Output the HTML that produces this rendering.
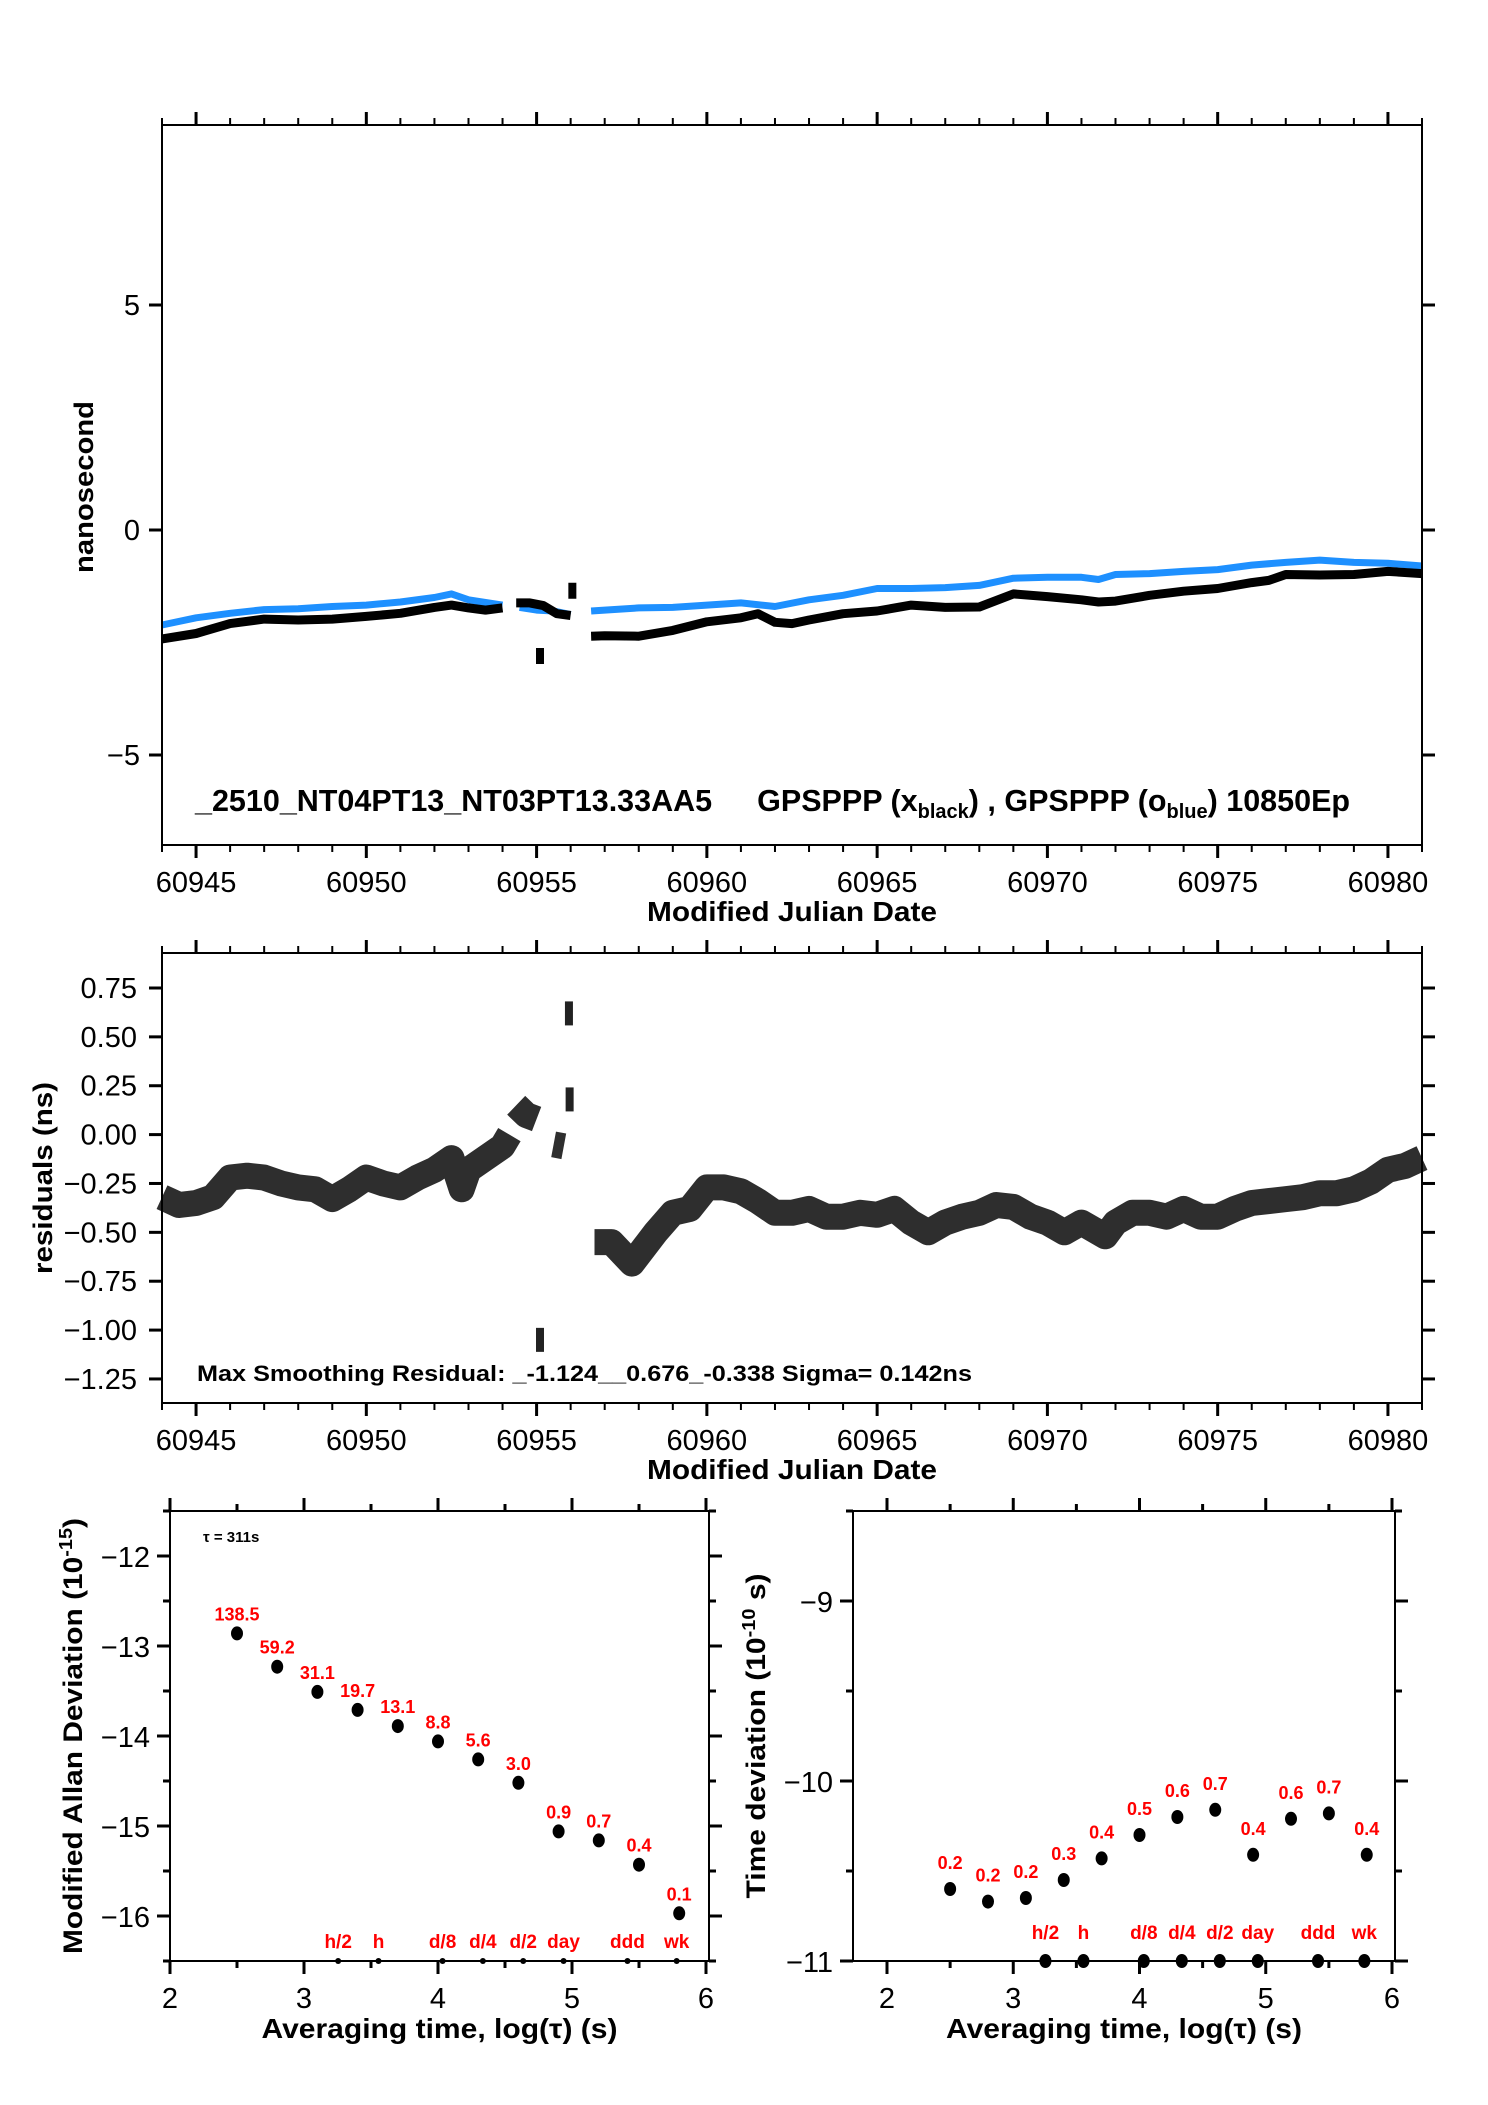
<!DOCTYPE html>
<html><head><meta charset="utf-8"><title>GPSPPP comparison</title>
<style>
html,body{margin:0;padding:0;background:#fff;}
svg{display:block;font-family:"Liberation Sans",sans-serif;}
</style></head>
<body>
<svg id="chart" width="1488" height="2105" viewBox="0 0 1488 2105" xmlns="http://www.w3.org/2000/svg"></svg>
<script>
// ---- Panel 1: time difference (ns) ----
const p1BlackDays=[60944,60945,60946,60947,60948,60949,60950,60951,60952,60952.5,60953,60953.5,60954,null,60954.4,60954.8,60955.2,60955.6,60956,null,60956.6,60957,60958,60959,60960,60961,60961.5,60962,60962.5,60963,60964,60965,60966,60967,60968,60969,60970,60971,60971.5,60972,60973,60974,60975,60976,60976.5,60977,60978,60979,60980,60981];
const p1BlackVals=[-2.42,-2.3,-2.08,-1.98,-2.0,-1.98,-1.92,-1.85,-1.72,-1.67,-1.73,-1.78,-1.73,null,-1.62,-1.62,-1.68,-1.86,-1.9,null,-2.36,-2.35,-2.36,-2.23,-2.04,-1.95,-1.86,-2.05,-2.08,-2.0,-1.86,-1.8,-1.67,-1.72,-1.71,-1.42,-1.48,-1.55,-1.6,-1.58,-1.45,-1.36,-1.3,-1.17,-1.12,-0.99,-1.0,-0.99,-0.92,-0.97];
const p1BlueDays=[60944,60945,60946,60947,60948,60949,60950,60951,60952,60952.5,60953,60954,null,60954.5,60955,60955.5,60956,null,60956.6,60957,60958,60959,60960,60961,60962,60963,60964,60965,60966,60967,60968,60969,60970,60971,60971.5,60972,60973,60974,60975,60976,60977,60978,60979,60980,60981];
const p1BlueVals=[-2.11,-1.95,-1.85,-1.77,-1.75,-1.7,-1.67,-1.6,-1.5,-1.42,-1.55,-1.67,null,-1.72,-1.78,-1.8,-1.88,null,-1.8,-1.78,-1.73,-1.72,-1.67,-1.62,-1.7,-1.55,-1.45,-1.3,-1.3,-1.28,-1.23,-1.07,-1.05,-1.05,-1.1,-0.99,-0.97,-0.92,-0.88,-0.78,-0.72,-0.67,-0.72,-0.74,-0.8];
const p1OutDays=[60955.1,60956.05];
const p1OutVals=[-2.8,-1.35];
const p1YTicks=[-5,0,5];
const mjdTicks=[60945,60950,60955,60960,60965,60970,60975,60980];

// ---- Panel 2: residuals (ns) ----
const resDays=[60944,60944.5,60945,60945.5,60946,60946.5,60947,60947.5,60948,60948.5,60949,60949.5,60950,60950.5,60951,60951.5,60952,60952.5,60952.8,60953,60953.5,60954,60954.2,null,60954.4,60954.7,60955,null,60955.5,60955.8,null,60956.7,60957.2,60957.8,60958.5,60959,60959.5,60960,60960.5,60961,60961.5,60962,60962.5,60963,60963.5,60964,60964.5,60965,60965.5,60966,60966.5,60967,60967.5,60968,60968.5,60969,60969.5,60970,60970.5,60971,60971.7,60972,60972.5,60973,60973.5,60974,60974.5,60975,60975.5,60976,60976.5,60977,60977.5,60978,60978.5,60979,60979.5,60980,60980.5,60981];
const resVals=[-0.32,-0.36,-0.35,-0.32,-0.22,-0.21,-0.22,-0.25,-0.27,-0.28,-0.33,-0.28,-0.22,-0.25,-0.27,-0.22,-0.18,-0.12,-0.28,-0.18,-0.12,-0.06,0.0,null,0.15,0.1,0.08,null,-0.05,-0.06,null,-0.55,-0.55,-0.66,-0.5,-0.4,-0.38,-0.27,-0.27,-0.29,-0.34,-0.4,-0.4,-0.38,-0.42,-0.42,-0.4,-0.41,-0.38,-0.45,-0.5,-0.45,-0.42,-0.4,-0.36,-0.37,-0.42,-0.45,-0.5,-0.45,-0.52,-0.45,-0.4,-0.4,-0.42,-0.38,-0.42,-0.42,-0.38,-0.35,-0.34,-0.33,-0.32,-0.3,-0.3,-0.28,-0.24,-0.18,-0.16,-0.12];
const resOutDays=[60955.1,60955.95,60955.97];
const resOutVals=[-1.05,0.62,0.18];
const resYTicks=[-1.25,-1.0,-0.75,-0.5,-0.25,0,0.25,0.5,0.75];
const resYLabels=["\u22121.25","\u22121.00","\u22120.75","\u22120.50","\u22120.25","0.00","0.25","0.50","0.75"];

// ---- Panel 3: stability ----
const logTau=[2.5,2.8,3.1,3.4,3.7,4.0,4.3,4.6,4.9,5.2,5.5,5.8];
const madev=[-12.86,-13.23,-13.51,-13.71,-13.89,-14.06,-14.26,-14.52,-15.06,-15.16,-15.43,-15.97];
const madevLabels=["138.5","59.2","31.1","19.7","13.1","8.8","5.6","3.0","0.9","0.7","0.4","0.1"];
const tdev=[-10.6,-10.67,-10.65,-10.55,-10.43,-10.3,-10.2,-10.16,-10.41,-10.21,-10.18,-10.41];
const tdevLabels=["0.2","0.2","0.2","0.3","0.4","0.5","0.6","0.7","0.4","0.6","0.7","0.4"];
const markNames=["h/2","h","d/8","d/4","d/2","day","ddd","wk"];
const markPos=[3.255,3.556,4.034,4.335,4.636,4.937,5.414,5.781];
const madevYTicks=[-16,-15,-14,-13,-12];
const tdevYTicks=[-11,-10,-9];
const logTicks=[2,3,4,5,6];

const NS="http://www.w3.org/2000/svg";
const svg=document.getElementById('chart');
function el(tag,attrs,parent){const e=document.createElementNS(NS,tag);for(const k in attrs)e.setAttribute(k,attrs[k]);(parent||svg).appendChild(e);return e;}
function lin(d0,d1,r0,r1){return v=>r0+(v-d0)*(r1-r0)/(d1-d0);}
function txt(s,x,y,attrs,parent){const t=el('text',Object.assign({x:x,y:y},attrs),parent);t.textContent=s;return t;}
function pathFrom(xs,ys,fx,fy){let d='',pen=false;for(let i=0;i<xs.length;i++){if(xs[i]===null||ys[i]===null){pen=false;continue;}d+=(pen?'L':'M')+fx(xs[i]).toFixed(1)+' '+fy(ys[i]).toFixed(1);pen=true;}return d;}

// ===== Panel 1 =====
const g1=el('g',{});


const x1=lin(60944,60981,162,1422), y1=lin(-7,9,845,125);
const bl=el('path',{d:pathFrom(p1BlueDays,p1BlueVals,x1,y1),fill:'none',stroke:'#1e90ff','stroke-width':7,'stroke-linejoin':'round'},g1);


const bk=el('path',{d:pathFrom(p1BlackDays,p1BlackVals,x1,y1),fill:'none',stroke:'#000','stroke-width':9,'stroke-linejoin':'round'},g1);


for(let i=0;i<p1OutDays.length;i++){
  const o=el('rect',{x:x1(p1OutDays[i])-4,y:y1(p1OutVals[i])-8,width:8,height:16,fill:'#000'},g1);
  
  
}
function frameMJD(g,x,top,bot){
  el('rect',{x:162,y:top,width:1260,height:bot-top,fill:'none',stroke:'#000','stroke-width':2},g);
  for(let d=60944;d<=60981;d++){const big=mjdTicks.indexOf(d)>=0,L=big?13:7;
    el('line',{x1:x(d),x2:x(d),y1:top,y2:top-L,stroke:'#000','stroke-width':big?3:2},g);
    el('line',{x1:x(d),x2:x(d),y1:bot,y2:bot+L,stroke:'#000','stroke-width':big?3:2},g);}
  mjdTicks.forEach(d=>{const t=txt(String(d),x(d),bot+47,{'font-size':29,'text-anchor':'middle'},g);
    
    });
  const tt=txt('Modified Julian Date',792,bot+76,{'font-size':28,'font-weight':'bold','text-anchor':'middle',textLength:290,lengthAdjust:'spacingAndGlyphs'},g);
  
  
}
frameMJD(g1,x1,125,845);
p1YTicks.forEach(v=>{el('line',{x1:149,x2:162,y1:y1(v),y2:y1(v),stroke:'#000','stroke-width':3},g1);
  el('line',{x1:1422,x2:1435,y1:y1(v),y2:y1(v),stroke:'#000','stroke-width':3},g1);
  const t=txt(v<0?'\u2212'+(-v):String(v),140,y1(v)+10,{'font-size':29,'text-anchor':'end'},g1);
  
  });
const yt1=txt('nanosecond',0,0,{'font-size':27,'font-weight':'bold','text-anchor':'middle',transform:'translate(93,487) rotate(-90)',textLength:172,lengthAdjust:'spacingAndGlyphs'},g1);


const lg=el('text',{x:195,y:811,'font-size':30.5,'font-weight':'bold'},g1);


lg.innerHTML='_2510_NT04PT13_NT03PT13.33AA5<tspan dx="45">GPSPPP (x</tspan><tspan font-size="20" dy="7">black</tspan><tspan dy="-7">) ,  GPSPPP (o</tspan><tspan font-size="20" dy="7">blue</tspan><tspan dy="-7">)  10850Ep</tspan>';

// ===== Panel 2 =====
const g2=el('g',{});


const y2=lin(-1.373,0.929,1403,953);
const rs=el('path',{d:pathFrom(resDays,resVals,x1,y2),fill:'none',stroke:'#111','stroke-width':26,'stroke-linejoin':'round','stroke-opacity':0.88},g2);


for(let i=0;i<resOutDays.length;i++){
  const o=el('rect',{x:x1(resOutDays[i])-4,y:y2(resOutVals[i])-12,width:8,height:24,fill:'#222'},g2);
  
  
}
frameMJD(g2,x1,953,1403);
resYTicks.forEach((v,i)=>{el('line',{x1:149,x2:162,y1:y2(v),y2:y2(v),stroke:'#000','stroke-width':3},g2);
  el('line',{x1:1422,x2:1435,y1:y2(v),y2:y2(v),stroke:'#000','stroke-width':3},g2);
  const t=txt(resYLabels[i],137,y2(v)+10,{'font-size':29,'text-anchor':'end'},g2);
  
  });
const yt2=txt('residuals (ns)',0,0,{'font-size':27,'font-weight':'bold','text-anchor':'middle',transform:'translate(52,1178) rotate(-90)',textLength:192,lengthAdjust:'spacingAndGlyphs'},g2);


const ms=txt('Max Smoothing Residual: _-1.124__0.676_-0.338  Sigma= 0.142ns',197,1381,{'font-size':22,'font-weight':'bold',textLength:775,lengthAdjust:'spacingAndGlyphs'},g2);



// ===== Panel 3 =====
function stabPanel(name,left,right,x,y,yTicks,yMin,yMax,vals,labels,labelOff,bigMarks,yTitle,titleX,titleLen){
  const g=el('g',{});
  
  
  el('rect',{x:left,y:1511,width:right-left,height:450,fill:'none',stroke:'#000','stroke-width':2},g);
  for(let v=2;v<=6.001;v+=0.5){const big=Math.abs(v-Math.round(v))<0.01,L=big?13:7;
    el('line',{x1:x(v),x2:x(v),y1:1511,y2:1511-L,stroke:'#000','stroke-width':3},g);
    el('line',{x1:x(v),x2:x(v),y1:1961,y2:1961+L,stroke:'#000','stroke-width':3},g);}
  logTicks.forEach(v=>{const t=txt(String(v),x(v),2008,{'font-size':29,'text-anchor':'middle'},g);
    
    });
  for(let v=yMin;v<=yMax+0.001;v+=0.5){const big=Math.abs(v-Math.round(v))<0.01,L=big?13:7;
    el('line',{x1:left-L,x2:left,y1:y(v),y2:y(v),stroke:'#000','stroke-width':3},g);
    el('line',{x1:right,x2:right+L,y1:y(v),y2:y(v),stroke:'#000','stroke-width':3},g);}
  yTicks.forEach(v=>{const t=txt('\u2212'+(-v),left-20,y(v)+11,{'font-size':29,'text-anchor':'end'},g);
    
    });
  const xt=txt('Averaging time, log(\u03c4) (s)',(left+right)/2,2038,{'font-size':28,'font-weight':'bold','text-anchor':'middle',textLength:356,lengthAdjust:'spacingAndGlyphs'},g);
  
  
  const yt=el('text',{x:0,y:0,'font-size':27,'font-weight':'bold','text-anchor':'middle',transform:'translate('+titleX+',1736) rotate(-90)',textLength:titleLen,lengthAdjust:'spacingAndGlyphs'},g);
  yt.innerHTML=yTitle;
  
  
  for(let i=0;i<logTau.length;i++){
    const c=el('ellipse',{cx:x(logTau[i]),cy:y(vals[i]),rx:6,ry:7,fill:'#000'},g);
    
    
    const t=txt(labels[i],x(logTau[i]),y(vals[i])-labelOff,{'font-size':18,'font-weight':'bold',fill:'#f00','text-anchor':'middle'},g);
    
    
  }
  for(let i=0;i<markPos.length;i++){
    const c=el('ellipse',{cx:x(markPos[i]),cy:1961,rx:bigMarks?6:3,ry:bigMarks?7:3,fill:'#000'},g);
    
    
    const t=txt(markNames[i],x(markPos[i]),bigMarks?1939:1948,{'font-size':19,'font-weight':'bold',fill:'#f00','text-anchor':'middle'},g);
    
    
  }
  return g;
}
const xL=lin(2,6,170,706), yL=lin(-16.5,-11.5,1961,1511);
const gL=stabPanel('mod-allan-panel',170,709,xL,yL,madevYTicks,-16.5,-11.5,madev,madevLabels,13,false,'Modified Allan Deviation (10<tspan font-size="18" dy="-10">-15</tspan><tspan dy="10">)</tspan>',82,436);
const tau=txt('\u03c4 = 311s',203,1542,{'font-size':15,'font-weight':'bold'},gL);


const xR=lin(2,6,887,1392), yR=lin(-11,-8.5,1961,1511);
stabPanel('time-deviation-panel',853,1395,xR,yR,tdevYTicks,-11,-8.5,tdev,tdevLabels,20,true,'Time deviation (10<tspan font-size="18" dy="-10">-10</tspan><tspan dy="10"> s)</tspan>',765,325);
</script>
</body></html>
